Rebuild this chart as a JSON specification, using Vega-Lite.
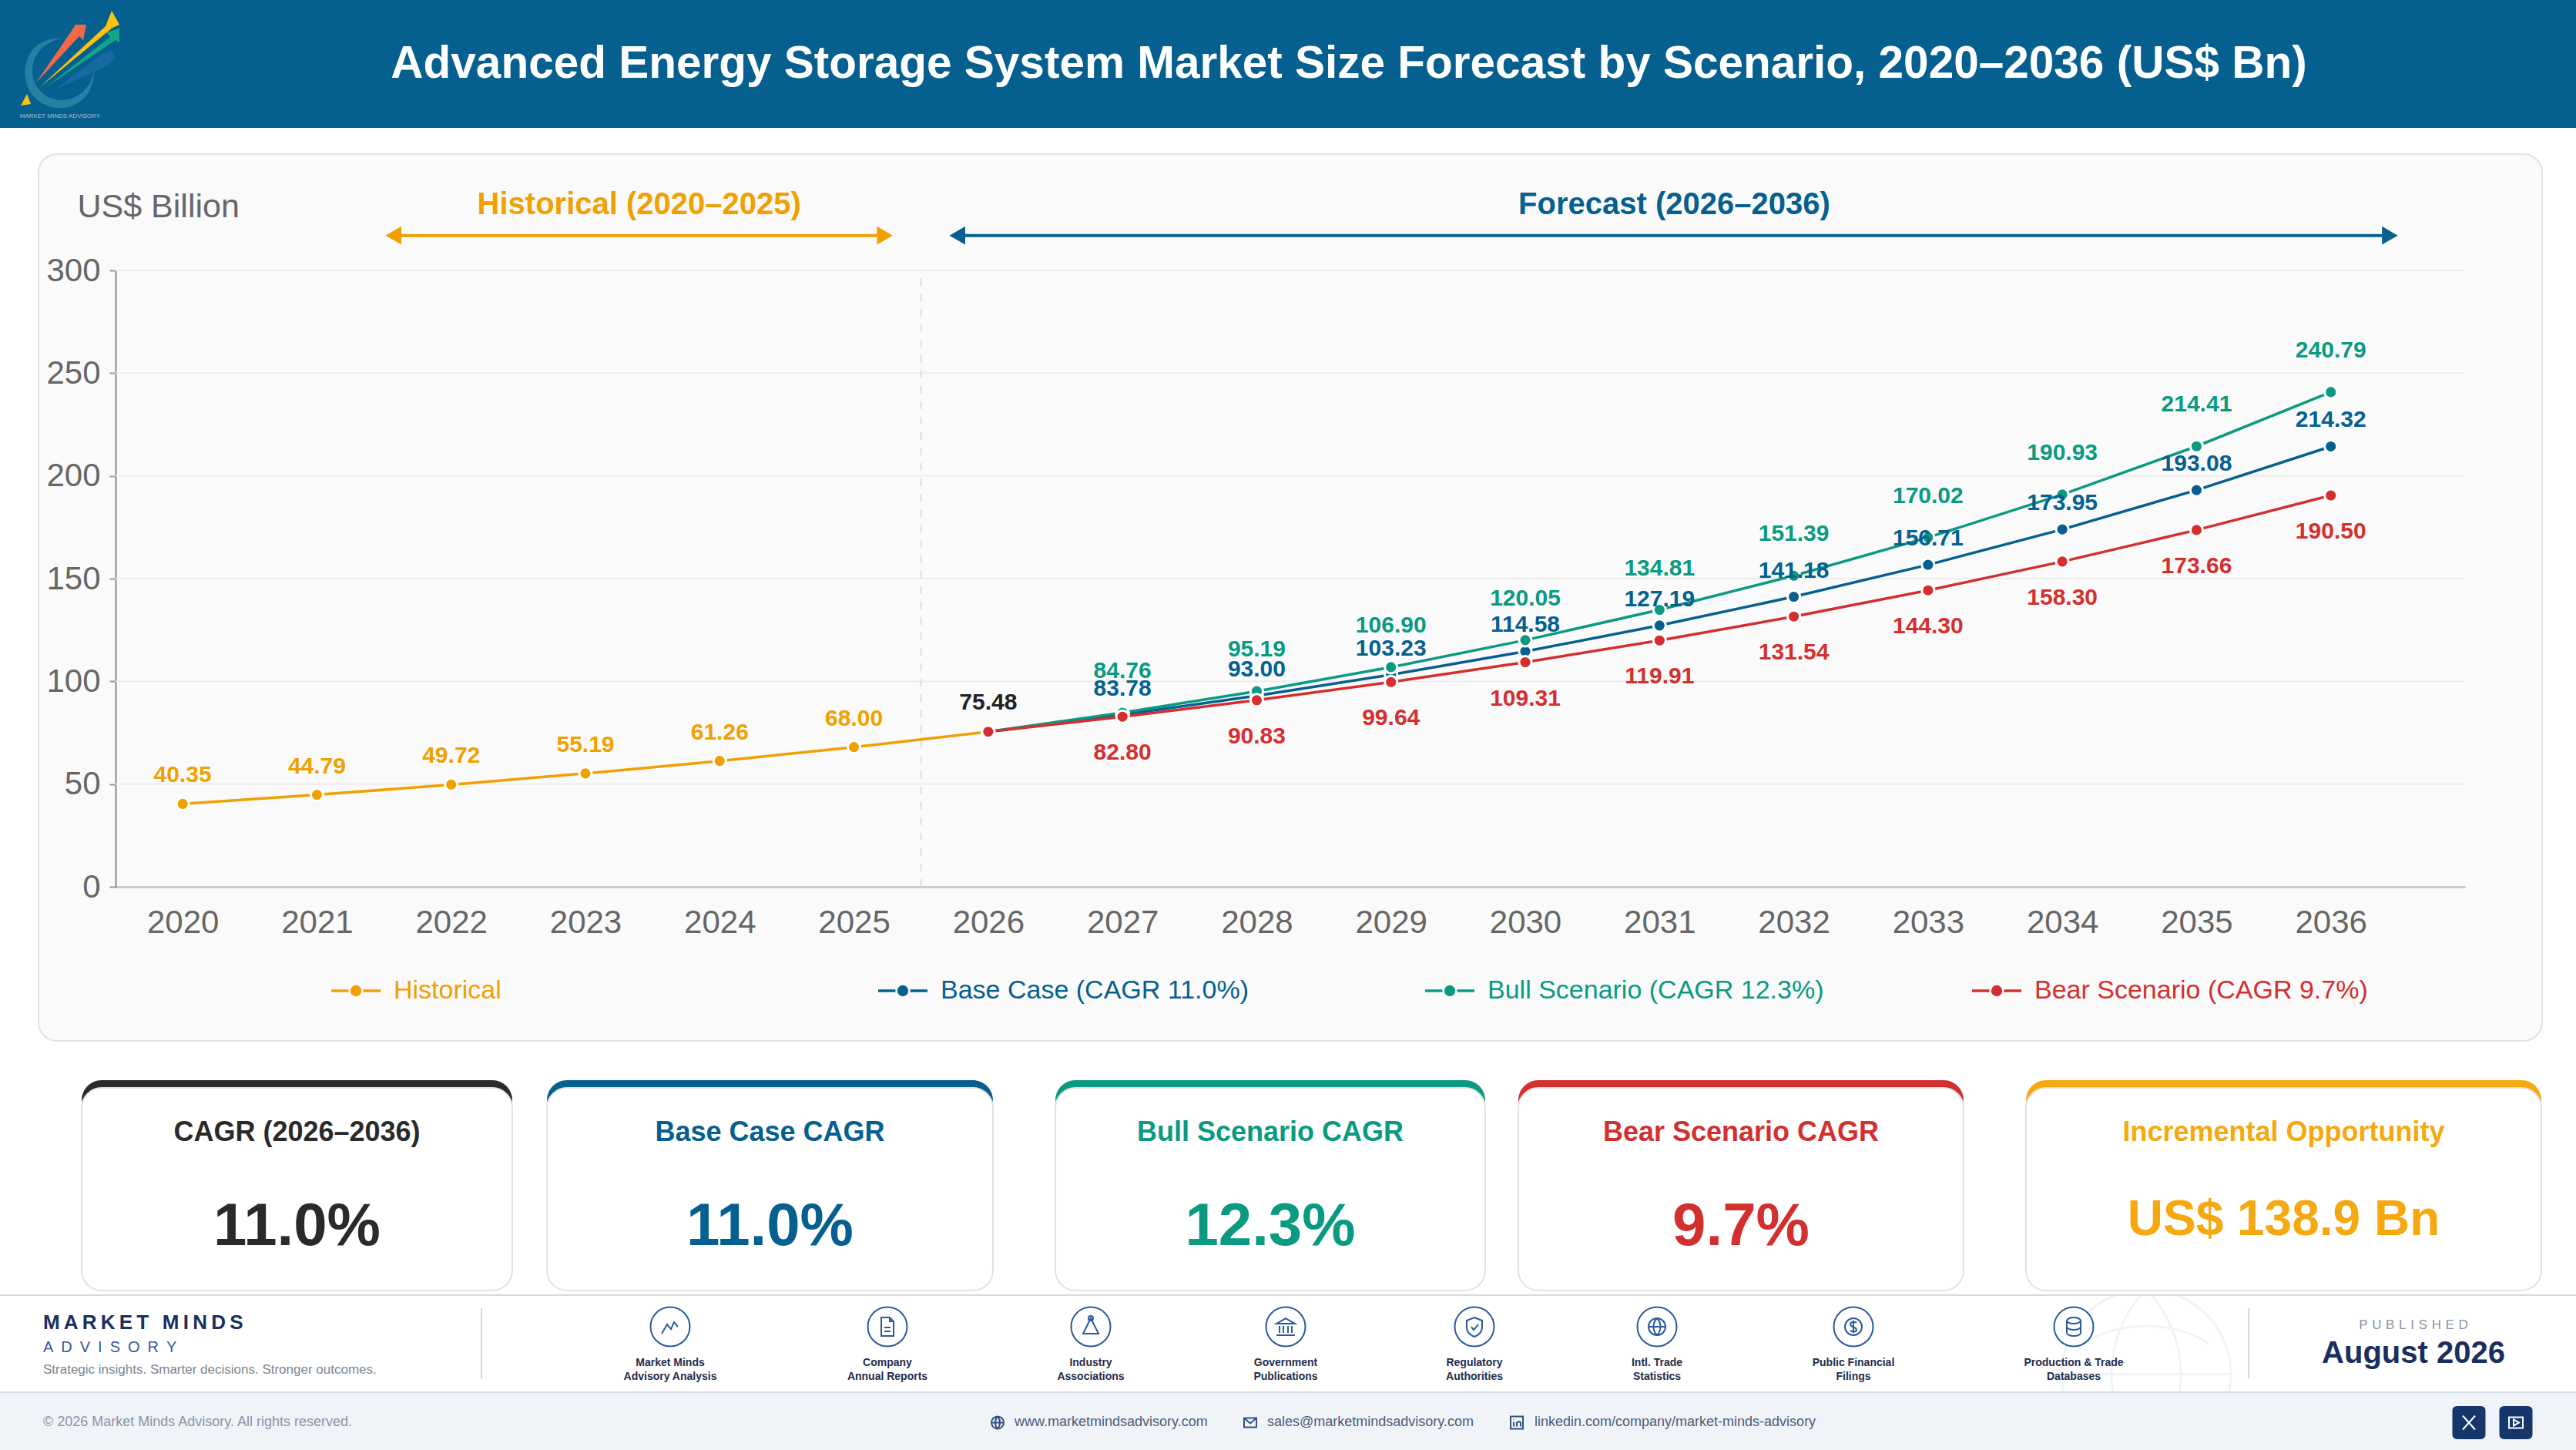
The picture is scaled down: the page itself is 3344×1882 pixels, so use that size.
{
  "$schema": "https://vega.github.io/schema/vega-lite/v6.json",
  "background": "#ffffff",
  "padding": 0,
  "spacing": 0,
  "resolve": {"scale": {"shape": "independent"}},
  "config": {
    "font": "Liberation Sans",
    "view": {"stroke": null}
  },
  "datasets": {
    "series": [
      {"year": 2020, "series": "Historical", "value": 40.35},
      {"year": 2021, "series": "Historical", "value": 44.79},
      {"year": 2022, "series": "Historical", "value": 49.72},
      {"year": 2023, "series": "Historical", "value": 55.19},
      {"year": 2024, "series": "Historical", "value": 61.26},
      {"year": 2025, "series": "Historical", "value": 68.00},
      {"year": 2026, "series": "Historical", "value": 75.48},
      {"year": 2026, "series": "Base Case (CAGR 11.0%)", "value": 75.48},
      {"year": 2027, "series": "Base Case (CAGR 11.0%)", "value": 83.78},
      {"year": 2028, "series": "Base Case (CAGR 11.0%)", "value": 93.00},
      {"year": 2029, "series": "Base Case (CAGR 11.0%)", "value": 103.23},
      {"year": 2030, "series": "Base Case (CAGR 11.0%)", "value": 114.58},
      {"year": 2031, "series": "Base Case (CAGR 11.0%)", "value": 127.19},
      {"year": 2032, "series": "Base Case (CAGR 11.0%)", "value": 141.18},
      {"year": 2033, "series": "Base Case (CAGR 11.0%)", "value": 156.71},
      {"year": 2034, "series": "Base Case (CAGR 11.0%)", "value": 173.95},
      {"year": 2035, "series": "Base Case (CAGR 11.0%)", "value": 193.08},
      {"year": 2036, "series": "Base Case (CAGR 11.0%)", "value": 214.32},
      {"year": 2026, "series": "Bull Scenario (CAGR 12.3%)", "value": 75.48},
      {"year": 2027, "series": "Bull Scenario (CAGR 12.3%)", "value": 84.76},
      {"year": 2028, "series": "Bull Scenario (CAGR 12.3%)", "value": 95.19},
      {"year": 2029, "series": "Bull Scenario (CAGR 12.3%)", "value": 106.90},
      {"year": 2030, "series": "Bull Scenario (CAGR 12.3%)", "value": 120.05},
      {"year": 2031, "series": "Bull Scenario (CAGR 12.3%)", "value": 134.81},
      {"year": 2032, "series": "Bull Scenario (CAGR 12.3%)", "value": 151.39},
      {"year": 2033, "series": "Bull Scenario (CAGR 12.3%)", "value": 170.02},
      {"year": 2034, "series": "Bull Scenario (CAGR 12.3%)", "value": 190.93},
      {"year": 2035, "series": "Bull Scenario (CAGR 12.3%)", "value": 214.41},
      {"year": 2036, "series": "Bull Scenario (CAGR 12.3%)", "value": 240.79},
      {"year": 2026, "series": "Bear Scenario (CAGR 9.7%)", "value": 75.48},
      {"year": 2027, "series": "Bear Scenario (CAGR 9.7%)", "value": 82.80},
      {"year": 2028, "series": "Bear Scenario (CAGR 9.7%)", "value": 90.83},
      {"year": 2029, "series": "Bear Scenario (CAGR 9.7%)", "value": 99.64},
      {"year": 2030, "series": "Bear Scenario (CAGR 9.7%)", "value": 109.31},
      {"year": 2031, "series": "Bear Scenario (CAGR 9.7%)", "value": 119.91},
      {"year": 2032, "series": "Bear Scenario (CAGR 9.7%)", "value": 131.54},
      {"year": 2033, "series": "Bear Scenario (CAGR 9.7%)", "value": 144.30},
      {"year": 2034, "series": "Bear Scenario (CAGR 9.7%)", "value": 158.30},
      {"year": 2035, "series": "Bear Scenario (CAGR 9.7%)", "value": 173.66},
      {"year": 2036, "series": "Bear Scenario (CAGR 9.7%)", "value": 190.50}
    ],
    "periods": [
      {"period": "Historical (2020–2025)", "start": 2021.57, "end": 2025.23, "mid": 2023.4},
      {"period": "Forecast (2026–2036)", "start": 2025.77, "end": 2036.44, "mid": 2031.11}
    ]
  },
  "vconcat": [
    {
      "width": 3344,
      "height": 166,
      "view": {"fill": "#05608f"},
      "data": {"values": [{"title": "Advanced Energy Storage System Market Size Forecast by Scenario, 2020–2036 (US$ Bn)", "brand": "MARKET MINDS ADVISORY"}]},
      "layer": [
        {
          "mark": {"type": "point", "filled": true, "opacity": 0.85, "size": 4, "color": "#2b86a8", "shape": "M80,50C45,48 30,75 33,100C36,128 60,142 82,140C105,138 122,120 122,92C118,115 100,130 80,130C58,130 42,112 42,92C42,72 55,55 80,50Z"},
          "encoding": {
            "x": {"datum": 0, "type": "quantitative", "scale": {"domain": [0, 1], "range": [0, 3344]}, "axis": null},
            "y": {"datum": 0, "type": "quantitative", "scale": {"domain": [0, 1], "range": [0, 166]}, "axis": null}
          }
        },
        {
          "mark": {"type": "point", "filled": true, "opacity": 0.9, "size": 4, "color": "#1a6aa5", "shape": "M72,116L130,72L145,65L150,75L140,85Z"},
          "encoding": {"x": {"datum": 0, "type": "quantitative", "axis": null}, "y": {"datum": 0, "type": "quantitative", "axis": null}}
        },
        {
          "mark": {"type": "point", "filled": true, "opacity": 1, "size": 4, "color": "#f2694a", "shape": "M47,107L93,40L98,32L112,32L108,52L103,47Z"},
          "encoding": {"x": {"datum": 0, "type": "quantitative", "axis": null}, "y": {"datum": 0, "type": "quantitative", "axis": null}}
        },
        {
          "mark": {"type": "point", "filled": true, "opacity": 1, "size": 4, "color": "#12a58a", "shape": "M57,115L143,48L138,42L155,37L155,55L150,52Z"},
          "encoding": {"x": {"datum": 0, "type": "quantitative", "axis": null}, "y": {"datum": 0, "type": "quantitative", "axis": null}}
        },
        {
          "mark": {"type": "point", "filled": true, "opacity": 1, "size": 4, "color": "#ffc20e", "shape": "M52,113L137,34L145,14L155,32L146,36ZM27,137L35,122L40,135Z"},
          "encoding": {"x": {"datum": 0, "type": "quantitative", "axis": null}, "y": {"datum": 0, "type": "quantitative", "axis": null}}
        },
        {
          "mark": {"type": "text", "fontSize": 8, "color": "#a8bdc9", "baseline": "middle"},
          "encoding": {
            "x": {"datum": 0.0233, "type": "quantitative", "axis": null},
            "y": {"datum": 0.91, "type": "quantitative", "axis": null},
            "text": {"field": "brand"}
          }
        },
        {
          "mark": {"type": "text", "fontSize": 58.5, "fontWeight": "bold", "color": "#ffffff", "baseline": "middle", "dx": 79},
          "encoding": {"x": {"datum": 0.5, "type": "quantitative", "axis": null}, "y": {"datum": 0.5, "type": "quantitative", "axis": null}, "text": {"field": "title"}}
        }
      ]
    },
    {"width": 3344, "height": 33, "data": {"values": []}, "mark": "text"},
    {
      "hconcat": [
        {"width": 50, "height": 1151, "data": {"values": []}, "mark": "text"},
        {
          "width": 3250,
          "height": 1151,
          "view": {"fill": "#fafafa", "stroke": "#e2e2e2", "strokeWidth": 2, "cornerRadius": 24},
          "layer": [
            {
              "data": {"values": [{"tick": 50}, {"tick": 100}, {"tick": 150}, {"tick": 200}, {"tick": 250}, {"tick": 300}]},
              "mark": {"type": "rule", "color": "#ececec", "strokeWidth": 2},
              "encoding": {
                "y": {
                  "field": "tick",
                  "type": "quantitative",
                  "scale": {"domain": [0, 300], "range": [951, 151], "nice": false},
                  "axis": {
                    "title": "US$ Billion",
                    "titleAngle": 0,
                    "titleAlign": "left",
                    "titleBaseline": "middle",
                    "titleX": -50,
                    "titleY": 68,
                    "titleFontSize": 43,
                    "titleFontWeight": "normal",
                    "titleColor": "#666666",
                    "values": [0, 50, 100, 150, 200, 250, 300],
                    "offset": -100,
                    "grid": false,
                    "domainColor": "#888888",
                    "domainWidth": 2,
                    "tickColor": "#999999",
                    "tickSize": 8,
                    "tickWidth": 2,
                    "labelColor": "#666666",
                    "labelFontSize": 42,
                    "labelPadding": 12
                  }
                },
                "x": {
                  "datum": 2019.5,
                  "type": "quantitative",
                  "scale": {"domain": [2019.5, 2037], "range": [100, 3150], "nice": false, "zero": false},
                  "axis": {
                    "title": null,
                    "values": [2020, 2021, 2022, 2023, 2024, 2025, 2026, 2027, 2028, 2029, 2030, 2031, 2032, 2033, 2034, 2035, 2036],
                    "format": "d",
                    "offset": -200,
                    "grid": false,
                    "ticks": false,
                    "domainColor": "#cccccc",
                    "domainWidth": 3,
                    "labelColor": "#666666",
                    "labelFontSize": 42,
                    "labelPadding": 26
                  }
                },
                "x2": {"datum": 2037}
              }
            },
            {
              "data": {"values": [{"boundary": 2025.5}]},
              "mark": {"type": "rule", "color": "#dddddd", "strokeWidth": 2, "strokeDash": [10, 10]},
              "encoding": {
                "x": {"field": "boundary", "type": "quantitative"},
                "y": {"datum": 0, "type": "quantitative"},
                "y2": {"datum": 300}
              }
            },
            {
              "data": {"name": "periods"},
              "mark": {"type": "rule", "strokeWidth": 4},
              "encoding": {
                "x": {"field": "start", "type": "quantitative"},
                "x2": {"field": "end"},
                "y": {"datum": 317, "type": "quantitative"},
                "stroke": {"field": "period", "type": "nominal", "scale": {"domain": ["Historical (2020–2025)", "Forecast (2026–2036)"], "range": ["#f0a000", "#05608f"]}, "legend": null}
              }
            },
            {
              "data": {"name": "periods"},
              "mark": {"type": "point", "filled": true, "opacity": 1, "shape": "triangle-left", "size": 560},
              "encoding": {
                "x": {"field": "start", "type": "quantitative"},
                "y": {"datum": 317, "type": "quantitative"},
                "fill": {"field": "period", "type": "nominal", "scale": {"domain": ["Historical (2020–2025)", "Forecast (2026–2036)"], "range": ["#f0a000", "#05608f"]}, "legend": null}
              }
            },
            {
              "data": {"name": "periods"},
              "mark": {"type": "point", "filled": true, "opacity": 1, "shape": "triangle-right", "size": 560},
              "encoding": {
                "x": {"field": "end", "type": "quantitative"},
                "y": {"datum": 317, "type": "quantitative"},
                "fill": {"field": "period", "type": "nominal", "legend": null}
              }
            },
            {
              "data": {"name": "periods"},
              "mark": {"type": "text", "fontSize": 40, "fontWeight": "bold", "baseline": "middle"},
              "encoding": {
                "x": {"field": "mid", "type": "quantitative"},
                "y": {"datum": 332, "type": "quantitative"},
                "text": {"field": "period"},
                "fill": {"field": "period", "type": "nominal", "legend": null}
              }
            },
            {
              "data": {"name": "series"},
              "mark": {"type": "line", "strokeWidth": 3.5},
              "encoding": {
                "x": {"field": "year", "type": "quantitative"},
                "y": {"field": "value", "type": "quantitative"},
                "color": {
                  "field": "series",
                  "type": "nominal",
                  "sort": null,
                  "scale": {
                    "domain": ["Historical", "Base Case (CAGR 11.0%)", "Bull Scenario (CAGR 12.3%)", "Bear Scenario (CAGR 9.7%)"],
                    "range": ["#f0a000", "#05608f", "#0a9a82", "#d32f2f"]
                  },
                  "legend": {
                    "title": null,
                    "orient": "none",
                    "legendX": 428,
                    "legendY": 1252,
                    "direction": "horizontal",
                    "columns": 4,
                    "gridAlign": "all",
                    "columnPadding": 185,
                    "symbolType": "M-1,0H-0.3M0.3,0H1M-0.17,0A0.17,0.17 0 1,1 0.17,0A0.17,0.17 0 1,1 -0.17,0Z",
                    "symbolSize": 4096,
                    "symbolStrokeWidth": 3.5,
                    "labelFontSize": 34,
                    "labelOffset": 15,
                    "labelLimit": 700,
                    "labelColor": {"expr": "{'Historical':'#f0a000','Base Case (CAGR 11.0%)':'#05608f','Bull Scenario (CAGR 12.3%)':'#0a9a82','Bear Scenario (CAGR 9.7%)':'#d32f2f'}[datum.value]"},
                    "encoding": {
                      "symbols": {
                        "fill": {"signal": "{'Historical':'#f0a000','Base Case (CAGR 11.0%)':'#05608f','Bull Scenario (CAGR 12.3%)':'#0a9a82','Bear Scenario (CAGR 9.7%)':'#d32f2f'}[datum.value]"},
                        "stroke": {"signal": "{'Historical':'#f0a000','Base Case (CAGR 11.0%)':'#05608f','Bull Scenario (CAGR 12.3%)':'#0a9a82','Bear Scenario (CAGR 9.7%)':'#d32f2f'}[datum.value]"},
                        "opacity": {"value": 1}
                      }
                    }
                  }
                }
              }
            },
            {
              "data": {"name": "series"},
              "mark": {"type": "point", "filled": true, "opacity": 1, "size": 260, "stroke": "#ffffff", "strokeWidth": 3},
              "encoding": {
                "x": {"field": "year", "type": "quantitative"},
                "y": {"field": "value", "type": "quantitative"},
                "color": {"field": "series", "type": "nominal", "sort": null}
              }
            },
            {
              "data": {"name": "series"},
              "transform": [{"filter": "datum.series == 'Historical' && datum.year < 2026"}],
              "mark": {"type": "text", "fontSize": 30, "fontWeight": "bold", "fill": "#f0a000", "dy": -37},
              "encoding": {
                "x": {"field": "year", "type": "quantitative"},
                "y": {"field": "value", "type": "quantitative"},
                "text": {"field": "value", "type": "quantitative", "format": ".2f"}
              }
            },
            {
              "data": {"name": "series"},
              "transform": [{"filter": "datum.series == 'Base Case (CAGR 11.0%)' && datum.year == 2026"}],
              "mark": {"type": "text", "fontSize": 30, "fontWeight": "bold", "fill": "#222222", "dy": -38},
              "encoding": {
                "x": {"field": "year", "type": "quantitative"},
                "y": {"field": "value", "type": "quantitative"},
                "text": {"field": "value", "type": "quantitative", "format": ".2f"}
              }
            },
            {
              "data": {"name": "series"},
              "transform": [{"filter": "datum.series == 'Base Case (CAGR 11.0%)' && datum.year > 2026"}],
              "mark": {"type": "text", "fontSize": 30, "fontWeight": "bold", "fill": "#05608f", "dy": -34},
              "encoding": {
                "x": {"field": "year", "type": "quantitative"},
                "y": {"field": "value", "type": "quantitative"},
                "text": {"field": "value", "type": "quantitative", "format": ".2f"}
              }
            },
            {
              "data": {"name": "series"},
              "transform": [{"filter": "datum.series == 'Bull Scenario (CAGR 12.3%)' && datum.year > 2026"}],
              "mark": {"type": "text", "fontSize": 30, "fontWeight": "bold", "fill": "#0a9a82", "dy": -54},
              "encoding": {
                "x": {"field": "year", "type": "quantitative"},
                "y": {"field": "value", "type": "quantitative"},
                "text": {"field": "value", "type": "quantitative", "format": ".2f"}
              }
            },
            {
              "data": {"name": "series"},
              "transform": [{"filter": "datum.series == 'Bear Scenario (CAGR 9.7%)' && datum.year > 2026"}],
              "mark": {"type": "text", "fontSize": 30, "fontWeight": "bold", "fill": "#d32f2f", "dy": 47},
              "encoding": {
                "x": {"field": "year", "type": "quantitative"},
                "y": {"field": "value", "type": "quantitative"},
                "text": {"field": "value", "type": "quantitative", "format": ".2f"}
              }
            }
          ]
        }
      ],
      "spacing": 0,
      "bounds": "flush"
    },
    {"width": 3344, "height": 50, "data": {"values": []}, "mark": "text"},
    {
      "hconcat": [
        {"width": 106, "height": 273, "data": {"values": []}, "mark": "text"},
        {
          "width": 559, "height": 273,
          "data": {"values": [{"metric": "CAGR (2026–2036)", "figure": "11.0%"}]},
          "layer": [
            {"mark": {"type": "rect", "cornerRadius": 26, "color": "#2a2a2a"}, "encoding": {}},
            {"mark": {"type": "rect", "cornerRadius": 26, "color": "#ffffff", "stroke": "#e2e2e2", "strokeWidth": 2},
             "encoding": {"y": {"datum": 0.037, "type": "quantitative", "scale": {"domain": [0, 1], "range": [0, 273]}, "axis": null}, "y2": {"datum": 1}}},
            {"mark": {"type": "text", "fontSize": 36, "fontWeight": "bold", "color": "#2a2a2a", "baseline": "middle"},
             "encoding": {"y": {"datum": 0.25, "type": "quantitative", "axis": null}, "text": {"field": "metric"}}},
            {"mark": {"type": "text", "fontSize": 78, "fontWeight": "bold", "color": "#2a2a2a", "baseline": "middle"},
             "encoding": {"y": {"datum": 0.70, "type": "quantitative", "axis": null}, "text": {"field": "figure"}}}
          ]
        },
        {"width": 45, "height": 273, "data": {"values": []}, "mark": "text"},
        {
          "width": 579, "height": 273,
          "data": {"values": [{"metric": "Base Case CAGR", "figure": "11.0%"}]},
          "layer": [
            {"mark": {"type": "rect", "cornerRadius": 26, "color": "#05608f"}, "encoding": {}},
            {"mark": {"type": "rect", "cornerRadius": 26, "color": "#ffffff", "stroke": "#e2e2e2", "strokeWidth": 2},
             "encoding": {"y": {"datum": 0.037, "type": "quantitative", "scale": {"domain": [0, 1], "range": [0, 273]}, "axis": null}, "y2": {"datum": 1}}},
            {"mark": {"type": "text", "fontSize": 36, "fontWeight": "bold", "color": "#05608f", "baseline": "middle"},
             "encoding": {"y": {"datum": 0.25, "type": "quantitative", "axis": null}, "text": {"field": "metric"}}},
            {"mark": {"type": "text", "fontSize": 78, "fontWeight": "bold", "color": "#05608f", "baseline": "middle"},
             "encoding": {"y": {"datum": 0.70, "type": "quantitative", "axis": null}, "text": {"field": "figure"}}}
          ]
        },
        {"width": 81, "height": 273, "data": {"values": []}, "mark": "text"},
        {
          "width": 558, "height": 273,
          "data": {"values": [{"metric": "Bull Scenario CAGR", "figure": "12.3%"}]},
          "layer": [
            {"mark": {"type": "rect", "cornerRadius": 26, "color": "#0a9a82"}, "encoding": {}},
            {"mark": {"type": "rect", "cornerRadius": 26, "color": "#ffffff", "stroke": "#e2e2e2", "strokeWidth": 2},
             "encoding": {"y": {"datum": 0.037, "type": "quantitative", "scale": {"domain": [0, 1], "range": [0, 273]}, "axis": null}, "y2": {"datum": 1}}},
            {"mark": {"type": "text", "fontSize": 36, "fontWeight": "bold", "color": "#0a9a82", "baseline": "middle"},
             "encoding": {"y": {"datum": 0.25, "type": "quantitative", "axis": null}, "text": {"field": "metric"}}},
            {"mark": {"type": "text", "fontSize": 78, "fontWeight": "bold", "color": "#0a9a82", "baseline": "middle"},
             "encoding": {"y": {"datum": 0.70, "type": "quantitative", "axis": null}, "text": {"field": "figure"}}}
          ]
        },
        {"width": 43, "height": 273, "data": {"values": []}, "mark": "text"},
        {
          "width": 578, "height": 273,
          "data": {"values": [{"metric": "Bear Scenario CAGR", "figure": "9.7%"}]},
          "layer": [
            {"mark": {"type": "rect", "cornerRadius": 26, "color": "#d32f2f"}, "encoding": {}},
            {"mark": {"type": "rect", "cornerRadius": 26, "color": "#ffffff", "stroke": "#e2e2e2", "strokeWidth": 2},
             "encoding": {"y": {"datum": 0.037, "type": "quantitative", "scale": {"domain": [0, 1], "range": [0, 273]}, "axis": null}, "y2": {"datum": 1}}},
            {"mark": {"type": "text", "fontSize": 36, "fontWeight": "bold", "color": "#d32f2f", "baseline": "middle"},
             "encoding": {"y": {"datum": 0.25, "type": "quantitative", "axis": null}, "text": {"field": "metric"}}},
            {"mark": {"type": "text", "fontSize": 78, "fontWeight": "bold", "color": "#d32f2f", "baseline": "middle"},
             "encoding": {"y": {"datum": 0.70, "type": "quantitative", "axis": null}, "text": {"field": "figure"}}}
          ]
        },
        {"width": 81, "height": 273, "data": {"values": []}, "mark": "text"},
        {
          "width": 669, "height": 273,
          "data": {"values": [{"metric": "Incremental Opportunity", "figure": "US$ 138.9 Bn"}]},
          "layer": [
            {"mark": {"type": "rect", "cornerRadius": 26, "color": "#f5a80f"}, "encoding": {}},
            {"mark": {"type": "rect", "cornerRadius": 26, "color": "#ffffff", "stroke": "#e2e2e2", "strokeWidth": 2},
             "encoding": {"y": {"datum": 0.037, "type": "quantitative", "scale": {"domain": [0, 1], "range": [0, 273]}, "axis": null}, "y2": {"datum": 1}}},
            {"mark": {"type": "text", "fontSize": 36, "fontWeight": "bold", "color": "#f5a80f", "baseline": "middle"},
             "encoding": {"y": {"datum": 0.25, "type": "quantitative", "axis": null}, "text": {"field": "metric"}}},
            {"mark": {"type": "text", "fontSize": 64, "fontWeight": "bold", "color": "#f5a80f", "baseline": "middle"},
             "encoding": {"y": {"datum": 0.665, "type": "quantitative", "axis": null}, "text": {"field": "figure"}}}
          ]
        }
      ],
      "spacing": 0,
      "bounds": "flush"
    },
    {"width": 3344, "height": 4, "data": {"values": []}, "mark": "text"},
    {"width": 3344, "height": 2, "view": {"fill": "#d3dae7"}, "data": {"values": []}, "mark": "text"},
    {
      "width": 3344,
      "height": 124,
      "view": {"fill": "#ffffff"},
      "layer": [
        {
          "data": {"values": [{"col": 8.4}]},
          "mark": {"type": "point", "filled": false, "opacity": 1, "size": 4, "color": "#f1f3f6", "strokeWidth": 3, "clip": true, "shape": "M-110,0A110,110 0 1,1 110,0A110,110 0 1,1 -110,0ZM-110,0H110M0,-110C-60,-50 -60,50 0,110C60,50 60,-50 0,-110M-80,-40C-40,-70 40,-70 80,-40"},
          "encoding": {
            "x": {"field": "col", "type": "quantitative", "scale": {"domain": [0, 0.5, 1, 2, 3, 4, 5, 6, 7, 8, 8.4, 8.5, 9], "range": [56, 625, 870, 1152, 1416, 1669, 1914, 2151, 2406, 2692, 2786, 2919, 3133]}, "axis": null},
            "y": {"datum": 0.82, "type": "quantitative", "scale": {"domain": [0, 1], "range": [0, 124]}, "axis": null}
          }
        },
        {
          "data": {"values": [{"col": 0.5}, {"col": 8.5}]},
          "mark": {"type": "rule", "color": "#d5dae2", "strokeWidth": 2},
          "encoding": {
            "x": {"field": "col", "type": "quantitative", "axis": null},
            "y": {"datum": 0.13, "type": "quantitative", "axis": null},
            "y2": {"datum": 0.87}
          }
        },
        {
          "data": {"values": [{"col": 0, "brand": "M\u2009A\u2009R\u2009K\u2009E\u2009T\u2009 \u2009M\u2009I\u2009N\u2009D\u2009S"}]},
          "mark": {"type": "text", "fontSize": 26, "fontWeight": "bold", "color": "#1a2f5f", "align": "left", "baseline": "middle"},
          "encoding": {"x": {"field": "col", "type": "quantitative", "axis": null}, "y": {"datum": 0.282, "type": "quantitative", "axis": null}, "text": {"field": "brand"}}
        },
        {
          "data": {"values": [{"col": 0, "brand": "A\u2002D\u2002V\u2002I\u2002S\u2002O\u2002R\u2002Y"}]},
          "mark": {"type": "text", "fontSize": 20, "color": "#3a5a94", "align": "left", "baseline": "middle"},
          "encoding": {"x": {"field": "col", "type": "quantitative", "axis": null}, "y": {"datum": 0.54, "type": "quantitative", "axis": null}, "text": {"field": "brand"}}
        },
        {
          "data": {"values": [{"col": 0, "brand": "Strategic insights. Smarter decisions. Stronger outcomes."}]},
          "mark": {"type": "text", "fontSize": 17, "color": "#7a8494", "align": "left", "baseline": "middle"},
          "encoding": {"x": {"field": "col", "type": "quantitative", "axis": null}, "y": {"datum": 0.774, "type": "quantitative", "axis": null}, "text": {"field": "brand"}}
        },
        {
          "data": {"values": [{"col": 1, "source": "Market Minds\nAdvisory Analysis"}, {"col": 2, "source": "Company\nAnnual Reports"}, {"col": 3, "source": "Industry\nAssociations"}, {"col": 4, "source": "Government\nPublications"}, {"col": 5, "source": "Regulatory\nAuthorities"}, {"col": 6, "source": "Intl. Trade\nStatistics"}, {"col": 7, "source": "Public Financial\nFilings"}, {"col": 8, "source": "Production & Trade\nDatabases"}]},
          "mark": {"type": "point", "filled": true, "opacity": 1, "fill": "#ffffff", "stroke": "#2a5a9a", "strokeWidth": 2, "size": 2600, "shape": "circle"},
          "encoding": {"x": {"field": "col", "type": "quantitative", "axis": null}, "y": {"datum": 0.323, "type": "quantitative", "axis": null}}
        },
        {
          "data": {"values": [{"col": 1, "source": "Market Minds\nAdvisory Analysis"}, {"col": 2, "source": "Company\nAnnual Reports"}, {"col": 3, "source": "Industry\nAssociations"}, {"col": 4, "source": "Government\nPublications"}, {"col": 5, "source": "Regulatory\nAuthorities"}, {"col": 6, "source": "Intl. Trade\nStatistics"}, {"col": 7, "source": "Public Financial\nFilings"}, {"col": 8, "source": "Production & Trade\nDatabases"}]},
          "mark": {"type": "point", "filled": false, "opacity": 1, "color": "#2a5a9a", "strokeWidth": 2, "size": 4},
          "encoding": {
            "x": {"field": "col", "type": "quantitative", "axis": null},
            "y": {"datum": 0.323, "type": "quantitative", "axis": null},
            "shape": {
              "field": "source",
              "type": "nominal",
              "legend": null,
              "sort": null,
              "scale": {
                "domain": ["Market Minds\nAdvisory Analysis", "Company\nAnnual Reports", "Industry\nAssociations", "Government\nPublications", "Regulatory\nAuthorities", "Intl. Trade\nStatistics", "Public Financial\nFilings", "Production & Trade\nDatabases"],
                "range": [
                  "M-11,9L-4,-3L1,3L5,-6L10,0",
                  "M-8,-12H3L8,-7V12H-8ZM3,-12V-7H8M-4,1H4M-4,6H4",
                  "M0,-11L-10,9H10ZM-3,-11A3,3 0 1,1 3,-11A3,3 0 1,1 -3,-11Z",
                  "M-12,-4L0,-11L12,-4ZM-8,-1V8M-3,-1V8M3,-1V8M8,-1V8M-12,11H12",
                  "M0,-12L10,-8V1C10,7 5,11 0,13C-5,11 -10,7 -10,1V-8ZM-4,0L-1,4L5,-3",
                  "M-11,0A11,11 0 1,1 11,0A11,11 0 1,1 -11,0ZM-11,0H11M0,-11C-6,-5 -6,5 0,11C6,5 6,-5 0,-11",
                  "M-11,0A11,11 0 1,1 11,0A11,11 0 1,1 -11,0ZM4,-5C2,-7 -4,-7 -4,-3C-4,1 4,0 4,4C4,7 -2,7 -4,5M0,-8V8",
                  "M-9,-8A9,4 0 1,1 9,-8A9,4 0 1,1 -9,-8ZM-9,-8V8A9,4 0 0,0 9,8V-8M-9,0A9,4 0 0,0 9,0"
                ]
              }
            }
          }
        },
        {
          "data": {"values": [{"col": 1, "source": "Market Minds\nAdvisory Analysis"}, {"col": 2, "source": "Company\nAnnual Reports"}, {"col": 3, "source": "Industry\nAssociations"}, {"col": 4, "source": "Government\nPublications"}, {"col": 5, "source": "Regulatory\nAuthorities"}, {"col": 6, "source": "Intl. Trade\nStatistics"}, {"col": 7, "source": "Public Financial\nFilings"}, {"col": 8, "source": "Production & Trade\nDatabases"}]},
          "mark": {"type": "text", "fontSize": 14, "fontWeight": "bold", "color": "#1f2d4d", "baseline": "middle", "lineBreak": "\n", "lineHeight": 18},
          "encoding": {"x": {"field": "col", "type": "quantitative", "axis": null}, "y": {"datum": 0.70, "type": "quantitative", "axis": null}, "text": {"field": "source"}}
        },
        {
          "data": {"values": [{"col": 9, "label": "P\u2004U\u2004B\u2004L\u2004I\u2004S\u2004H\u2004E\u2004D"}]},
          "mark": {"type": "text", "fontSize": 17, "color": "#8a93a3", "baseline": "middle"},
          "encoding": {"x": {"field": "col", "type": "quantitative", "axis": null}, "y": {"datum": 0.306, "type": "quantitative", "axis": null}, "text": {"field": "label"}}
        },
        {
          "data": {"values": [{"col": 9, "label": "August 2026"}]},
          "mark": {"type": "text", "fontSize": 40, "fontWeight": "bold", "color": "#1a2f5f", "baseline": "middle"},
          "encoding": {"x": {"field": "col", "type": "quantitative", "axis": null}, "y": {"datum": 0.605, "type": "quantitative", "axis": null}, "text": {"field": "label"}}
        }
      ]
    },
    {"width": 3344, "height": 2, "view": {"fill": "#d3dae7"}, "data": {"values": []}, "mark": "text"},
    {
      "width": 3344,
      "height": 74,
      "view": {"fill": "#f0f4f9"},
      "layer": [
        {
          "data": {"values": [{"col": 0, "note": "© 2026 Market Minds Advisory. All rights reserved."}]},
          "mark": {"type": "text", "fontSize": 18, "color": "#8a93a3", "align": "left", "baseline": "middle"},
          "encoding": {
            "x": {"field": "col", "type": "quantitative", "scale": {"domain": [0, 1, 2, 3, 4, 5, 6, 7, 8], "range": [56, 1295, 1317, 1623, 1645, 1969, 1992, 3205, 3266]}, "axis": null},
            "y": {"datum": 0.52, "type": "quantitative", "scale": {"domain": [0, 1], "range": [0, 74]}, "axis": null},
            "text": {"field": "note"}
          }
        },
        {
          "data": {"values": [{"col": 2, "note": "www.marketmindsadvisory.com"}, {"col": 4, "note": "sales@marketmindsadvisory.com"}, {"col": 6, "note": "linkedin.com/company/market-minds-advisory"}]},
          "mark": {"type": "text", "fontSize": 18, "color": "#4a5a78", "align": "left", "baseline": "middle"},
          "encoding": {"x": {"field": "col", "type": "quantitative", "axis": null}, "y": {"datum": 0.52, "type": "quantitative", "axis": null}, "text": {"field": "note"}}
        },
        {
          "data": {"values": [{"col": 1, "icon": "web"}, {"col": 3, "icon": "mail"}, {"col": 5, "icon": "linkedin"}]},
          "mark": {"type": "point", "filled": false, "opacity": 1, "color": "#33507f", "strokeWidth": 2, "size": 4},
          "encoding": {
            "x": {"field": "col", "type": "quantitative", "axis": null},
            "y": {"datum": 0.52, "type": "quantitative", "axis": null},
            "shape": {
              "field": "icon",
              "type": "nominal",
              "legend": null,
              "scale": {
                "domain": ["web", "mail", "linkedin", "X", "YouTube"],
                "range": [
                  "M-8,0A8,8 0 1,1 8,0A8,8 0 1,1 -8,0ZM-8,0H8M0,-8C-4,-4 -4,4 0,8C4,4 4,-4 0,-8",
                  "M-8,-6H8V6H-8ZM-8,-6L0,1L8,-6",
                  "M-8,-8H8V8H-8ZM-4,-1V5M-4,-4V-3.5M0,5V-1M0,1C1,-2 5,-2 5,1V5",
                  "M-8,-9L8,9M8,-9L-8,9",
                  "M-9,-7H9V7H-9ZM-3,-4L4,0L-3,4Z"
                ]
              }
            }
          }
        },
        {
          "data": {"values": [{"col": 7, "icon": "X"}, {"col": 8, "icon": "YouTube"}]},
          "mark": {"type": "point", "filled": true, "opacity": 1, "fill": "#16356b", "size": 1849, "shape": "M-0.7,-1H0.7Q1,-1 1,-0.7V0.7Q1,1 0.7,1H-0.7Q-1,1 -1,0.7V-0.7Q-1,-1 -0.7,-1Z"},
          "encoding": {"x": {"field": "col", "type": "quantitative", "axis": null}, "y": {"datum": 0.52, "type": "quantitative", "axis": null}}
        },
        {
          "data": {"values": [{"col": 7, "icon": "X"}, {"col": 8, "icon": "YouTube"}]},
          "mark": {"type": "point", "filled": false, "opacity": 1, "color": "#ffffff", "strokeWidth": 2, "size": 4},
          "encoding": {
            "x": {"field": "col", "type": "quantitative", "axis": null},
            "y": {"datum": 0.52, "type": "quantitative", "axis": null},
            "shape": {"field": "icon", "type": "nominal", "legend": null}
          }
        }
      ]
    }
  ]
}
